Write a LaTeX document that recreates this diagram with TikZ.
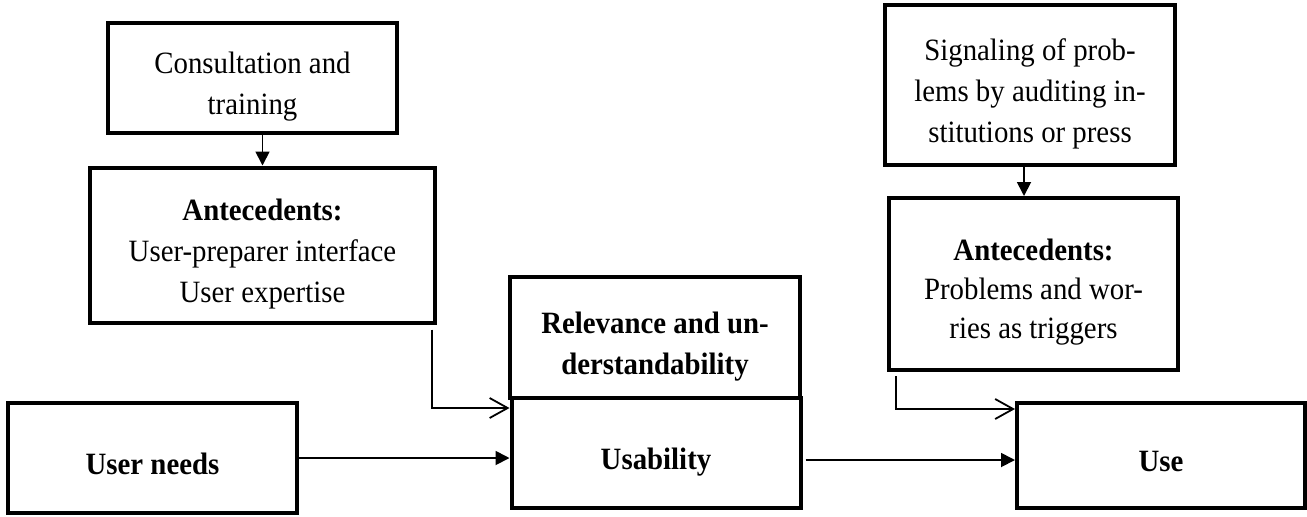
\documentclass[tikz,border=0pt]{standalone}
\usepackage{fontspec}
\setmainfont[FakeStretch=0.93]{Liberation Serif}
\usetikzlibrary{arrows.meta,positioning,calc}

% box text, set a little low as in the original
\newcommand{\boxtext}[1]{\raisebox{-4pt}[\height][\depth]{\begin{tabular}{@{}c@{}}#1\end{tabular}}}

\begin{document}
\begin{tikzpicture}[x=0.5pt,y=-0.5pt,
  box/.style={draw=black,line width=2pt,rectangle,inner sep=0pt,
    font=\fontsize{15.5}{20.5}\selectfont},
  solidarr/.style={-{Triangle[length=7pt,width=7pt]},line width=0.9pt},
  openarr/.style={-{Straight Barb[length=9pt,width=10pt]},line width=0.9pt}]

  \useasboundingbox (0,0) rectangle (1307,516);

  %% left column
  \node[box,minimum width=144.5pt,minimum height=55pt] (consult) at (252.5,78) {\boxtext{Consultation and\\training}};
  \node[box,minimum width=172.5pt,minimum height=77.5pt] (anteL) at (262.5,245) {\boxtext{\textbf{Antecedents:}\\User-preparer interface\\User expertise}};
  \node[box,minimum width=144.5pt,minimum height=55pt] (needs) at (152.5,458) {\boxtext{\textbf{User needs}}};

  %% middle column
  \node[box,minimum width=145pt,minimum height=60.5pt] (relev) at (655,337.5) {\boxtext{\textbf{Relevance and un-}\\\textbf{derstandability}}};
  \node[box,minimum width=144.5pt,minimum height=55pt] (usab) at (656,453) {\boxtext{\textbf{Usability}}};

  %% right column
  \node[box,minimum width=145pt,minimum height=80pt] (signal) at (1030,85) {\boxtext{Signaling of prob-\\lems by auditing in-\\stitutions or press}};
  \node[box,minimum width=144.5pt,minimum height=86pt,font=\fontsize{15.5}{19.5}\selectfont] (anteR) at (1033.5,284) {\raisebox{3pt}{\boxtext{\textbf{Antecedents:}\\Problems and wor-\\ries as triggers}}};
  \node[box,minimum width=144pt,minimum height=52.5pt] (use) at (1161,455.5) {\boxtext{\textbf{Use}}};

  %% connectors
  \coordinate (sigout) at ($(signal.south)+(-6,0)$);
  \coordinate (usout) at ($(usab.east)+(3,7)$);

  \draw[solidarr] (consult.south -| anteL.north) -- (anteL.north);
  \draw[solidarr] (sigout) -- (sigout |- anteR.north);

  \draw[openarr] ($(anteL.south east)+(-5,5)$) |- ($(usab.north west)+(0,12)$);
  \draw[openarr] ($(anteR.south west)+(9,4)$) |- ($(use.north west)+(0,8)$);

  \draw[solidarr] (needs.east) -- (needs.east -| usab.west);
  \draw[solidarr] (usout) -- (usout -| use.west);
\end{tikzpicture}
\end{document}
